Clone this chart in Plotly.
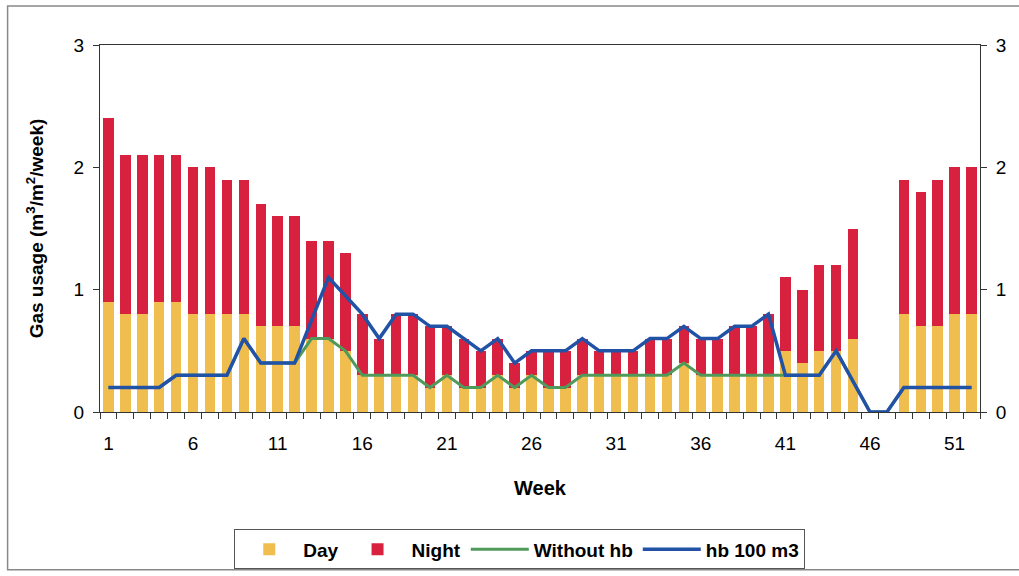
import plotly.graph_objects as go

# weekly gas usage per m2 of greenhouse
weeks = list(range(1, 53))
day = [0.9, 0.8, 0.8, 0.9, 0.9, 0.8, 0.8, 0.8, 0.8, 0.7, 0.7, 0.7, 0.6, 0.6, 0.5, 0.3,
       0.3, 0.3, 0.3, 0.2, 0.3, 0.2, 0.2, 0.3, 0.2, 0.3, 0.2, 0.2, 0.3, 0.3, 0.3, 0.3,
       0.3, 0.3, 0.4, 0.3, 0.3, 0.3, 0.3, 0.3, 0.5, 0.4, 0.5, 0.5, 0.6, 0, 0,
       0.8, 0.7, 0.7, 0.8, 0.8]
night = [1.5, 1.3, 1.3, 1.2, 1.2, 1.2, 1.2, 1.1, 1.1, 1.0, 0.9, 0.9, 0.8, 0.8, 0.8, 0.5,
         0.3, 0.5, 0.5, 0.5, 0.4, 0.4, 0.3, 0.3, 0.2, 0.2, 0.3, 0.3, 0.3, 0.2, 0.2, 0.2,
         0.3, 0.3, 0.3, 0.3, 0.3, 0.4, 0.4, 0.5, 0.6, 0.6, 0.7, 0.7, 0.9, 0, 0,
         1.1, 1.1, 1.2, 1.2, 1.2]
without_hb = [0.2, 0.2, 0.2, 0.2, 0.3, 0.3, 0.3, 0.3, 0.6, 0.4, 0.4, 0.4, 0.6, 0.6, 0.5, 0.3,
              0.3, 0.3, 0.3, 0.2, 0.3, 0.2, 0.2, 0.3, 0.2, 0.3, 0.2, 0.2, 0.3, 0.3, 0.3, 0.3,
              0.3, 0.3, 0.4, 0.3, 0.3, 0.3, 0.3, 0.3, 0.3, 0.3, 0.3, 0.5, 0.25, 0, 0,
              0.2, 0.2, 0.2, 0.2, 0.2]
hb_100 = [0.2, 0.2, 0.2, 0.2, 0.3, 0.3, 0.3, 0.3, 0.6, 0.4, 0.4, 0.4, 0.75, 1.1, 0.95, 0.8,
          0.6, 0.8, 0.8, 0.7, 0.7, 0.6, 0.5, 0.6, 0.4, 0.5, 0.5, 0.5, 0.6, 0.5, 0.5, 0.5,
          0.6, 0.6, 0.7, 0.6, 0.6, 0.7, 0.7, 0.8, 0.3, 0.3, 0.3, 0.5, 0.25, 0, 0,
          0.2, 0.2, 0.2, 0.2, 0.2]
week_labels = [1, 6, 11, 16, 21, 26, 31, 36, 41, 46, 51]
y_ticks = [0, 1, 2, 3]

font = "Liberation Sans, Arial, sans-serif"

fig = go.Figure()
fig.add_trace(go.Bar(x=weeks, y=day, name="Day", marker=dict(color="#F0BE4E", line_width=0)))
fig.add_trace(go.Bar(x=weeks, y=night, name="Night", marker=dict(color="#D8213F", line_width=0)))
fig.add_trace(go.Scatter(x=weeks, y=without_hb, name="Without hb", mode="lines",
                         line=dict(color="#4F9A5A", width=3), yaxis="y2"))
fig.add_trace(go.Scatter(x=weeks, y=hb_100, name="hb 100 m3", mode="lines",
                         line=dict(color="#2152A6", width=3.5), yaxis="y2"))

fig.update_layout(
    width=1019, height=576,
    margin=dict(l=100, r=39, t=45, b=164, autoexpand=False),
    barmode="stack", bargap=0.38,
    paper_bgcolor="white", plot_bgcolor="white",
    font=dict(family=font, size=19, color="black"),
    xaxis=dict(
        range=[0.5, 52.5], tickmode="array", tickvals=week_labels,
        ticks="outside", ticklen=4, tickcolor="rgba(0,0,0,0)",
        ticklabelstandoff=10,
        minor=dict(tickmode="linear", tick0=0.5, dtick=1, ticks="outside",
                   ticklen=6, tickcolor="#333"),
        showline=True, linecolor="#333", linewidth=1, mirror=True,
        showgrid=False, zeroline=False,
        title=dict(text="<b>Week</b>", font=dict(size=20), standoff=28),
    ),
    yaxis=dict(
        range=[0, 3], tickvals=y_ticks, ticks="outside", ticklen=6, tickcolor="#333",
        ticklabelstandoff=5,
        showline=True, linecolor="#333", linewidth=1, mirror=True,
        showgrid=False, zeroline=False,
        title=dict(text="<b>Gas usage (m<sup>3</sup>/m<sup>2</sup>/week)</b>",
                   font=dict(size=19), standoff=24),
    ),
    yaxis2=dict(
        range=[0, 3], tickvals=y_ticks, overlaying="y", side="right",
        ticks="outside", ticklen=6, tickcolor="#333", ticklabelstandoff=5,
        showline=True, linecolor="#333", linewidth=1,
        showgrid=False, zeroline=False,
    ),
    legend=dict(
        orientation="h", x=0.477, xanchor="center", y=-0.32, yanchor="top",
        bordercolor="#555", borderwidth=1, font=dict(size=19, family=font, weight="bold"),
        traceorder="normal", itemwidth=58,
    ),
    showlegend=True,
)

# outer chart border (right edge falls outside the picture)
fig.add_shape(type="rect", xref="paper", yref="paper",
              x0=-0.105, x1=1.1, y0=-0.43, y1=1.106,
              line=dict(color="#888", width=1.5), fillcolor="rgba(0,0,0,0)", layer="below")

fig.write_html("out.html", config={"displayModeBar": False},
               post_script="document.body.style.margin='0';")
